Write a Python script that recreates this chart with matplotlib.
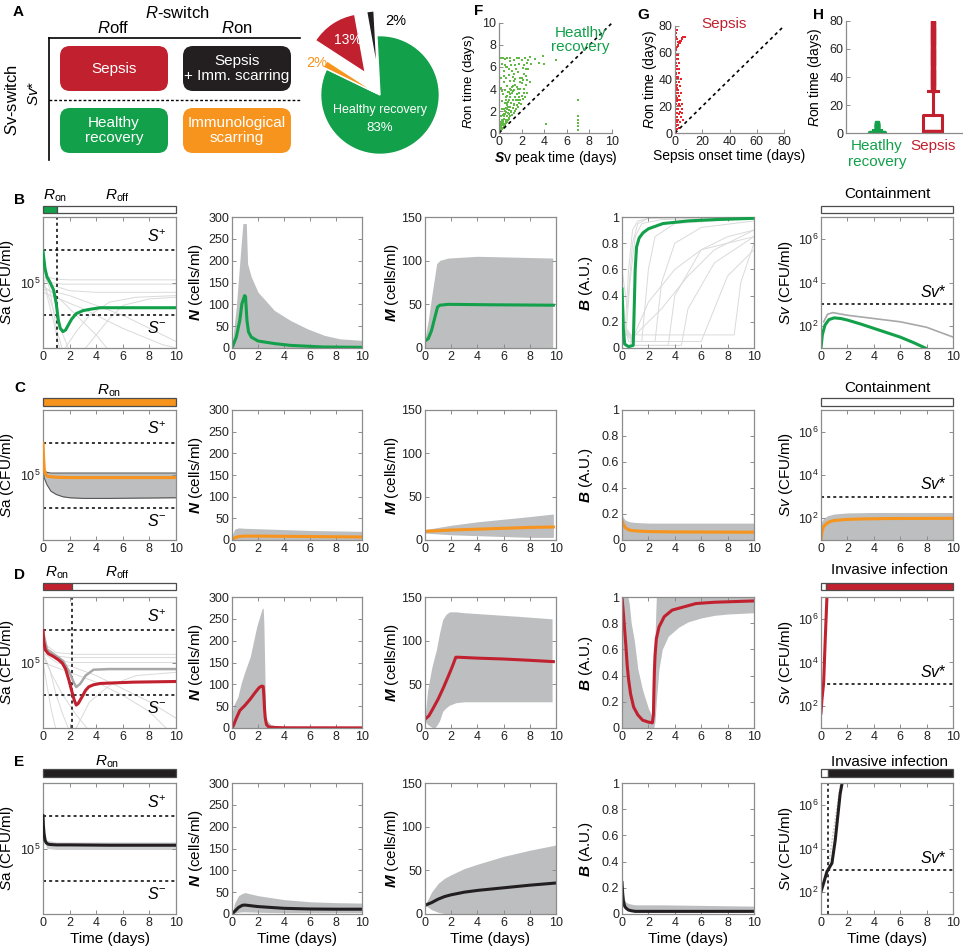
import numpy as np
import matplotlib
matplotlib.use('Agg')
import matplotlib.pyplot as plt
from matplotlib.patches import FancyBboxPatch
from matplotlib.ticker import NullLocator, NullFormatter

plt.rcParams['font.family'] = ['Liberation Sans', 'DejaVu Sans']
plt.rcParams['mathtext.fontset'] = 'custom'
plt.rcParams['mathtext.rm'] = 'Liberation Sans'
plt.rcParams['mathtext.it'] = 'Liberation Sans:italic'
plt.rcParams['mathtext.bf'] = 'Liberation Sans:bold'
if 'mathtext.bfit' in plt.rcParams:
    plt.rcParams['mathtext.bfit'] = 'Liberation Sans:bold:italic'
    BI = r'\mathbfit'
else:
    BI = r'\mathbf'

GREEN = '#12a04a'
RED = '#c1202f'
ORANGE = '#f7941d'
BLACK = '#231f20'
BAND = '#bcbec0'
THIN = '#dadada'
SPINE = '#8c8c8c'
FGREEN = '#62b946'
GRED = '#e8232b'

# ---------------- data ----------------
pie_labels = ['Healthy recovery', 'Sepsis + Imm. scarring', 'Sepsis', 'Immunological scarring']
pie_values = [83, 2, 13, 2]

# F scatter: Sv peak time vs Ron time (healthy recovery)
F_peak = [0.02,0.05,0.08,0.1,0.12,0.15,0.18,0.2,0.22,0.25,0.28,0.3,0.33,0.35,0.38,0.4,0.42,0.45,0.48,0.5,
          0.52,0.55,0.58,0.6,0.62,0.65,0.68,0.7,0.72,0.75,0.78,0.8,0.82,0.85,0.88,0.9,0.92,0.95,0.98,1.0,
          1.05,1.1,1.12,1.15,1.2,1.25,1.3,1.32,1.35,1.4,1.45,1.5,1.55,1.6,1.65,1.7,1.75,1.8,1.85,1.9,
          1.95,2.0,2.05,2.1,2.2,2.25,2.3,2.4,2.5,2.6,2.7,2.8,
          0.15,0.2,0.25,0.3,0.35,0.2,0.15,0.2,0.3,0.4,0.45,0.5,0.55,0.6,0.7,0.75,0.8,0.9,0.95,1.0,
          1.1,1.2,1.3,1.4,1.5,1.6,1.7,1.8,2.0,2.1,2.3,2.5,2.7,1.05,0.65,1.25,
          0.1,0.2,0.3,0.4,0.5,0.6,0.7,0.8,0.9,1.0,1.1,1.2,1.3,1.4,1.5,1.6,1.7,1.8,1.9,2.0,2.1,2.2,2.4,2.5,
          0.05,0.1,0.25,0.35,0.45,0.55,0.65,0.75,0.85,0.95,1.15,1.35,0.3,0.45,0.6,0.85,1.15,1.45,1.75,
          0.35,0.5,0.7,1.0,1.3,2.2,2.4,2.6,1.9,
          3.2,3.5,3.9,4.0,5.0,4.2,7.0,7.0,7.0,7.0,7.0,7.0]
F_ron = [0.05,0.1,0.2,0.15,0.3,0.25,0.45,0.3,0.6,0.4,0.75,0.5,0.9,0.45,1.1,0.6,1.3,0.7,1.5,0.8,
         1.7,0.75,1.2,0.9,1.9,1.1,2.2,1.0,1.5,2.5,1.2,1.8,2.8,1.3,2.1,3.0,1.4,2.4,3.3,1.5,
         2.0,2.7,3.6,1.6,2.3,3.0,1.8,3.9,2.6,2.0,3.3,2.2,4.2,2.5,3.0,2.4,3.6,2.7,4.6,3.0,
         2.6,3.4,5.0,3.1,4.0,5.4,3.3,4.4,3.6,5.8,4.6,6.3,
         1.0,1.5,2.2,2.9,3.5,4.1,5.0,6.8,6.3,5.6,4.6,3.9,6.7,5.0,4.3,6.0,3.7,5.3,6.8,4.7,
         6.2,5.1,6.6,4.9,5.8,6.8,5.5,6.3,6.6,5.9,6.8,6.4,6.9,3.9,3.3,4.3,
         0.4,0.9,1.2,1.7,2.0,2.3,2.7,2.4,1.7,3.5,1.9,3.8,2.5,4.4,3.0,3.5,4.0,3.3,4.0,4.5,4.8,3.6,5.2,4.8,
         0.3,0.7,1.0,1.6,2.2,2.7,3.0,3.4,3.7,4.0,4.2,4.7,3.8,5.2,6.0,5.8,5.6,6.2,6.8,
         6.8,6.2,6.8,6.5,5.4,6.2,5.8,6.6,5.0,
         6.7,6.4,7.0,6.3,6.6,0.8,3.0,1.5,1.2,0.6,0.3,0.9]

# G scatter: sepsis onset time vs Ron time
G_onset = [0.1,0.2,0.3,0.4,0.5,0.6,0.7,0.8,0.9,1.0,1.2,1.4,1.5,1.8,2.0,2.3,2.5,2.8,3.0,3.5,4.0,4.5,5.0,
           0.2,0.3,0.5,0.4,0.6,0.3,0.5,0.7,0.4,0.6,0.2,0.9,1.1,1.0,1.3,1.5,1.2,0.8,1.6,2.0,2.2,1.8,2.5,2.0,3.0,1.4,1.0,
           0.1,0.15,0.1,0.12,0.3,
           2.5,3.0,3.5,4.0,4.5,5.0,5.5,6.0,3.0,2.0,1.5,2.2,0.2,0.3,0.1,0.2,0.1,0.3,0.2,0.4,
           0.5,0.6,0.7,0.8,0.9,1.0,1.1,1.2,1.3,1.4,1.6,1.7,1.9,2.1,2.4,2.6,2.8,3.2,3.6,4.2,
           0.5,1.0,1.5,2.0,2.5,3.0,3.5,4.0,4.5,5.0,5.5,6.0,6.5,7.0,
           0.5,1.0,1.5,0.8]
G_ron = [0.5,2,4,1,6,3,8,2,10,5,12,3,8,15,6,18,10,4,14,20,8,12,18,
         14,20,25,30,35,40,45,50,55,58,60,28,22,38,32,42,48,52,26,30,25,36,40,48,28,58,62,
         10,25,35,50,65,
         55,45,35,25,30,22,15,10,52,58,70,68,45,52,58,30,20,15,8,18,
         38,42,22,32,44,15,55,40,18,24,34,50,20,42,32,22,48,38,16,40,
         62,63,64,65,66,67,67.5,68.5,69,70,71,71.5,72,72,
         72,75,77,70]

# H box plot summaries (Ron time, days)
H_green = dict(med=0.5, q1=0.2, q3=1.0, whislo=0.0, whishi=2.0,
               fliers=[2.5, 3.0, 3.5, 4.0, 4.5, 5.0, 5.5, 6.0, 6.5, 7.0])
H_red = dict(med=1.5, q1=1.0, q3=12.5, whislo=0.0, whishi=30.0,
             fliers=[31, 32.5, 34, 35.5, 37, 38.5, 40, 41.5, 43, 44.5, 46, 47.5, 49, 50.5, 52, 53.5, 55,
                     56.5, 58, 59.5, 61, 62.5, 64, 65.5, 67, 68.5, 70, 71.5, 73, 74.5, 76, 77.5, 79])

# Thresholds (log10)
S_plus, S_minus, Sv_star = 6.0, 4.0, 3.0

# ---- Row B (healthy recovery, green) ----
B_ron_end = 1.05
tB_sa = [0, 0.15, 0.3, 0.5, 0.8, 1.0, 1.15, 1.3, 1.5, 1.7, 1.9, 2.15, 2.5, 3.0, 3.5, 4.3, 6, 8, 10]
B_sa = [5.95, 5.43, 5.17, 5.03, 4.77, 4.35, 3.85, 3.6, 3.5, 3.55, 3.7, 3.88, 4.05, 4.14, 4.18, 4.23, 4.23, 4.23, 4.23]
B_sa_thin_t = [[0, 0.5, 1, 2, 4, 10], [0, 0.5, 1.5, 3, 10], [0, 0.8, 2, 4, 10], [0, 0.3, 0.8, 1.3],
               [0, 0.5, 1.0, 1.5, 2.0], [0, 1, 2, 3, 4, 5], [0, 2, 4, 6, 8, 10], [1.5, 2.5, 3.5, 5, 7, 10],
               [3, 4, 5, 6, 8, 10], [0, 0.5, 1, 1.5], [0, 3, 6, 9, 10]]
B_sa_thin = [[5.3, 5.15, 5.1, 5.08, 5.08, 5.08], [5.2, 5.0, 4.95, 4.95, 4.95], [5.1, 4.9, 4.75, 4.7, 4.7],
             [5.2, 4.6, 3.8, 2.9], [5.0, 4.5, 3.9, 3.4, 2.9], [4.9, 4.6, 4.2, 3.8, 3.4, 2.9],
             [4.8, 4.6, 4.3, 4.0, 3.6, 3.2], [2.9, 3.5, 4.0, 4.4, 4.55, 4.6], [2.9, 3.4, 3.9, 4.3, 4.5, 4.55],
             [5.5, 4.8, 3.6, 2.9], [4.7, 4.2, 3.6, 3.1, 3.0]]
tB_N = [0, 0.33, 0.6, 0.76, 0.97, 1.04, 1.15, 1.27, 1.48, 2, 3.3, 4.5, 7, 10]
B_N = [0, 25, 63, 101, 120, 118, 63, 37, 25, 16, 10, 6, 2.3, 1.5]
tB_Nb = [0, 0.33, 0.71, 0.84, 0.92, 1.1, 1.2, 1.48, 2.0, 3.26, 4.5, 5.8, 7.1, 8.3, 10]
B_N_hi = [5, 94, 239, 285, 285, 285, 193, 163, 128, 86, 63, 44, 29, 21, 17.5]
tB_M = [0, 0.25, 0.5, 0.76, 0.96, 1.14, 1.77, 5, 9.8]
B_M = [8, 10.7, 20, 35.5, 47, 49, 50, 49.5, 49]
tB_Mb = [0, 0.25, 0.5, 0.89, 1.14, 1.77, 4, 9.75]
B_M_hi = [10.7, 31.7, 58, 96.6, 100.4, 103, 105, 103]
tB_B = [0, 0.05, 0.1, 0.2, 0.5, 0.85, 0.95, 1.0, 1.1, 1.3, 1.6, 2, 3.1, 5, 7, 10]
B_B = [0.45, 0.3, 0.15, 0.03, 0.01, 0.02, 0.4, 0.6, 0.77, 0.84, 0.88, 0.91, 0.95, 0.97, 0.98, 0.99]
B_B_thin_t = [[0, 0.2, 0.5, 0.8, 1.2, 2, 10], [0, 0.3, 0.6, 1.0, 1.5, 3, 10], [0, 0.5, 1.5, 2, 2.5, 4, 10],
              [0, 1, 2.5, 3, 4, 6, 10], [0, 1, 2, 3.5, 4, 6, 8, 10], [0, 1, 3, 4.5, 5, 7, 10],
              [0, 1, 4, 6, 7, 8, 10], [0, 2, 5, 7, 8.5, 9, 10], [0, 0.4, 0.8, 1.2, 2, 4, 10],
              [1, 3, 5, 7, 10], [0.5, 2, 4, 6, 10]]
B_B_thin = [[0.45, 0.05, 0.6, 0.9, 0.97, 0.99, 1.0], [0.5, 0.1, 0.5, 0.85, 0.95, 0.98, 1.0],
            [0.3, 0.05, 0.05, 0.6, 0.85, 0.95, 0.99], [0.2, 0.05, 0.05, 0.5, 0.8, 0.92, 0.97],
            [0.2, 0.02, 0.02, 0.02, 0.4, 0.75, 0.85, 0.9], [0.15, 0.02, 0.02, 0.02, 0.3, 0.65, 0.85],
            [0.15, 0.05, 0.05, 0.05, 0.3, 0.55, 0.75], [0.1, 0.1, 0.1, 0.1, 0.1, 0.5, 0.8],
            [0.6, 0.3, 0.8, 0.95, 0.99, 1, 1], [0.1, 0.3, 0.55, 0.75, 0.9], [0.0, 0.35, 0.6, 0.75, 0.85]]
tB_sv = [0, 0.1, 0.3, 0.6, 1.0, 1.5, 2, 3, 4, 5, 6, 7, 7.9]
B_sv = [1.0, 1.6, 2.05, 2.3, 2.38, 2.35, 2.28, 2.1, 1.9, 1.7, 1.5, 1.25, 1.0]
tB_sv_gray = [0.2, 0.5, 0.9, 2, 4, 6, 8, 10]
B_sv_gray = [2.2, 2.55, 2.62, 2.5, 2.35, 2.2, 1.95, 1.5]

# ---- Row C (immunological scarring, orange) ----
tC_sa = [0, 0.05, 0.1, 0.2, 0.3, 0.5, 1, 2, 4, 10]
C_sa = [5.97, 5.5, 5.15, 5.02, 4.97, 4.95, 4.93, 4.92, 4.92, 4.92]
tC_sab = [0, 0.1, 0.3, 0.6, 1, 1.5, 2, 3, 5, 10]
C_sa_hi = [5.3, 5.12, 5.08, 5.06, 5.06, 5.06, 5.06, 5.06, 5.06, 5.06]
C_sa_lo = [5.2, 4.9, 4.7, 4.5, 4.4, 4.33, 4.3, 4.28, 4.28, 4.3]
tC_N = [0, 0.2, 0.5, 1, 2, 4, 6, 8, 10]
C_N = [0, 5, 8, 9, 9, 8.5, 8, 7.5, 7]
C_N_hi = [10, 25, 28, 27, 26, 24, 22, 21, 20]
tC_M = [0, 2, 4, 6, 8, 9.8]
C_M = [10, 11.5, 12.5, 13.5, 14.5, 15]
C_M_hi = [12, 17, 21, 24, 27, 30]
C_M_lo = [8, 6, 5, 4, 3, 3]
tC_B = [0, 0.1, 0.3, 0.6, 1, 2, 4, 10]
C_B = [0.15, 0.12, 0.09, 0.075, 0.07, 0.065, 0.062, 0.06]
C_B_hi = [0.2, 0.17, 0.15, 0.14, 0.135, 0.13, 0.13, 0.13]
tC_sv = [0, 0.05, 0.18, 0.4, 0.68, 1.0, 1.95, 3, 5, 10]
C_sv = [1.0, 1.3, 1.61, 1.75, 1.85, 1.9, 1.95, 1.97, 1.99, 2.0]
tC_svb = [0, 0.2, 0.5, 1, 2, 4, 10]
C_sv_hi = [1.8, 2.0, 2.12, 2.2, 2.25, 2.27, 2.27]

# ---- Row D (sepsis, red) ----
D_ron_end = 2.2
tD_sa = [0, 0.05, 0.18, 0.4, 0.8, 1.2, 1.45, 1.7, 1.95, 2.2, 2.35, 2.5, 2.65, 2.95, 3.2, 3.45, 3.8, 4.3, 5.5, 6.8, 10]
D_sa = [5.97, 5.65, 5.38, 5.27, 5.18, 5.07, 4.98, 4.8, 4.46, 4.07, 3.85, 3.7, 3.75, 3.96, 4.15, 4.26, 4.32, 4.36, 4.38, 4.4, 4.42]
tD_sa_gray = [0, 0.3, 1, 1.5, 2, 2.3, 2.5, 2.8, 3.2, 3.8, 5, 10]
D_sa_gray = [5.95, 5.4, 5.2, 5.05, 4.7, 4.4, 4.25, 4.35, 4.6, 4.78, 4.8, 4.8]
D_sa_thin_t = [[0, 1, 2, 4, 10], [0, 1, 2, 3, 10], [0, 1, 2, 4, 6, 8, 10], [0, 0.5, 1, 1.5, 2],
               [0, 0.7, 1.5, 2.5, 3.5], [0, 2, 4, 6, 8, 9.5], [0, 0.3, 0.6, 1], [2.5, 3.5, 5, 7, 10],
               [0, 1, 2.5, 4, 6, 10]]
D_sa_thin = [[5.5, 5.2, 5.15, 5.15, 5.15], [5.4, 5.1, 5.0, 5.0, 5.0], [5.3, 5.0, 4.9, 4.6, 4.2, 3.8, 3.3],
             [5.3, 4.8, 4.0, 3.4, 2.9], [5.2, 4.6, 4.0, 3.4, 2.9], [5.0, 4.7, 4.4, 4.0, 3.5, 2.9],
             [5.0, 4.3, 3.6, 2.9], [3.0, 3.8, 4.3, 4.6, 4.7], [5.6, 5.3, 5.25, 5.25, 5.25, 5.25]]
tD_N = [0, 0.1, 0.3, 0.6, 1.0, 1.4, 1.8, 2.1, 2.3, 2.4, 2.45, 2.5, 2.55, 2.65, 2.8, 3, 4, 10]
D_N = [0, 5, 20, 40, 52, 66, 82, 93, 96, 95, 75, 45, 25, 8, 3, 1.5, 0.5, 0.3]
tD_Nb = [0, 0.1, 0.3, 0.45, 0.7, 1.0, 1.4, 1.9, 2.1, 2.3, 2.4, 2.45, 2.6, 3, 3.5, 4, 10]
D_N_hi = [30, 50, 62, 71, 102, 130, 163, 232, 252, 272, 275, 240, 20, 8, 4, 2, 1]
tD_M = [0, 0.3, 0.6, 1.0, 1.4, 1.8, 2.1, 2.35, 2.6, 4, 6, 8, 9.8]
D_M = [10, 14, 22, 33, 46, 60, 71, 81, 81, 80, 79, 77.5, 76]
tD_Mb = [0, 0.2, 0.5, 0.7, 0.86, 1.1, 1.35, 1.6, 1.86, 2.37, 3, 5, 7, 9.7]
D_M_hi = [12, 43, 68, 80, 89, 108, 124, 130, 133, 133, 132, 130, 128, 125]
D_M_lo = [8, 4, 1, 0, 2, 8, 19, 23, 26, 29, 30, 30, 30, 30]
tD_B = [0, 0.1, 0.2, 0.3, 0.4, 0.5, 0.65, 0.88, 1.2, 1.56, 2.0, 2.3, 2.38, 2.42, 2.45, 2.5, 2.6, 2.8, 3.2, 3.8, 5.6, 7, 10]
D_B = [1.0, 0.88, 0.75, 0.62, 0.47, 0.37, 0.26, 0.16, 0.1, 0.06, 0.045, 0.04, 0.1, 0.3, 0.42, 0.55, 0.68, 0.77, 0.85,
       0.9, 0.95, 0.96, 0.97]
tD_Bb = [0, 0.45, 0.55, 0.7, 0.93, 1.2, 1.56, 2.0, 2.3, 2.4, 2.5, 2.6, 2.8, 3.05, 3.5, 4.3, 5, 6, 7, 8, 10]
D_B_hi = [1, 1, 0.95, 0.8, 0.67, 0.45, 0.29, 0.15, 0.086, 0.08, 0.7, 1, 1, 1, 1, 1, 1, 1, 1, 1, 1]
D_B_lo = [0, 0, 0, 0, 0, 0, 0, 0, 0, 0, 0.05, 0.2, 0.45, 0.6, 0.7, 0.77, 0.81, 0.84, 0.86, 0.87, 0.88]
tD_sv = [0, 0.07, 0.2, 0.32, 0.45]
D_sv = [1.69, 2.29, 3.07, 5.05, 7.0]
D_inv_start = 0.4

# ---- Row E (sepsis + immunological scarring, black) ----
tE_sa = [0, 0.03, 0.08, 0.15, 0.25, 0.4, 0.6, 1, 2, 5, 10]
E_sa = [6.0, 5.7, 5.45, 5.25, 5.17, 5.13, 5.12, 5.11, 5.11, 5.1, 5.1]
tE_sab = [0, 0.1, 0.3, 1, 10]
E_sa_hi = [6.0, 5.5, 5.25, 5.2, 5.2]
E_sa_lo = [5.9, 5.2, 5.0, 4.97, 4.97]
tE_N = [0, 0.2, 0.5, 0.8, 1, 2, 4, 6, 8, 10]
E_N = [0, 6, 15, 20, 20.5, 17, 13, 11.5, 11, 11]
E_N_hi = [0, 25, 42, 47, 49, 42, 33, 28, 26, 25]
E_N_lo = [0, 2, 4, 5, 5, 4, 3, 3, 3, 3]
tE_M = [0, 0.5, 1, 1.5, 2, 3, 4, 6, 8, 10]
E_M = [10, 13, 17, 20, 22, 25, 27, 30, 33, 35.5]
E_M_hi = [10, 25, 35, 41, 45, 52, 57, 66, 73, 79]
E_M_lo = [10, 5, 2, 0.5, 0, 0, 0, 0, 0, 0]
tE_B = [0, 0.05, 0.1, 0.2, 0.3, 0.5, 0.7, 1, 3, 10]
E_B = [0.24, 0.16, 0.1, 0.06, 0.045, 0.03, 0.025, 0.02, 0.02, 0.02]
E_B_hi = [0.25, 0.2, 0.15, 0.11, 0.09, 0.08, 0.075, 0.07, 0.07, 0.06]
tE_sv = [0, 0.2, 0.45, 0.83, 1.08, 1.45, 1.6]
E_sv = [2.02, 2.42, 2.94, 3.33, 4.39, 6.5, 7.0]
tE_sv_gray = [0.3, 0.55, 0.8, 1.0, 1.3, 1.5]
E_sv_gray = [2.6, 3.1, 4.2, 5.0, 6.2, 7.0]
E_inv_start = 0.55

# ---------------- figure ----------------
W, H = 963, 952
fig = plt.figure(figsize=(W / 100, H / 100), dpi=100)


def box(l, t, r, b):
    return fig.add_axes([l / W, 1 - b / H, (r - l) / W, (b - t) / H])


def ftext(x, y, s, **kw):
    fig.text(x / W, 1 - y / H, s, **kw)


def style(ax, allsides=True):
    for s in ax.spines.values():
        s.set_color(SPINE)
        s.set_linewidth(0.9)
    ax.tick_params(which='both', direction='in', length=3, width=0.7, color=SPINE,
                   top=allsides, right=allsides, labelsize=9, pad=2, labelcolor='#222222')


COLS = [(43, 176), (232, 362), (425, 556), (622, 754), (821, 953)]
ROWS = [(217, 348), (410, 540), (597, 728), (783, 914)]
BARS = [(206, 213), (398, 406), (583, 590), (769, 777)]
YLAB_X = [-0.2, -0.205, -0.185, -0.205, -0.2]


def tax(ci, ri):
    l, r = COLS[ci]
    t, b = ROWS[ri]
    ax = box(l, t, r, b)
    ax.set_xlim(0, 10)
    ax.set_xticks([0, 2, 4, 6, 8, 10])
    style(ax)
    if ri == 3:
        ax.set_xlabel('Time (days)', fontsize=11, labelpad=2)
    return ax


def P(v):
    return np.power(10.0, np.asarray(v, dtype=float))


def sa_axes(ri):
    ax = tax(0, ri)
    ax.set_yscale('log')
    ax.set_ylim(1e3, 1e7)
    ax.set_yticks([1e5])
    ax.yaxis.set_minor_locator(NullLocator())
    ax.yaxis.set_minor_formatter(NullFormatter())
    ax.axhline(10 ** S_plus, color='k', lw=1.1, ls=(0, (2, 2)))
    ax.axhline(10 ** S_minus, color='k', lw=1.1, ls=(0, (2, 2)))
    ax.text(0.93, 0.79, r'$\mathit{S}^{+}$', transform=ax.transAxes, ha='right', va='bottom', fontsize=11.5)
    ax.text(0.93, 0.21, r'$\mathit{S}^{-}$', transform=ax.transAxes, ha='right', va='top', fontsize=11.5)
    ax.set_ylabel(r'$\mathit{S}$a (CFU/ml)', fontsize=11)
    ax.yaxis.set_label_coords(YLAB_X[0], 0.5)
    return ax


def n_axes(ri):
    ax = tax(1, ri)
    ax.set_ylim(0, 300)
    ax.set_yticks([0, 50, 100, 150, 200, 250, 300])
    ax.set_ylabel(r'$' + BI + r'{N}$ (cells/ml)', fontsize=11)
    ax.yaxis.set_label_coords(YLAB_X[1], 0.5)
    return ax


def m_axes(ri):
    ax = tax(2, ri)
    ax.set_ylim(0, 150)
    ax.set_yticks([0, 50, 100, 150])
    ax.set_ylabel(r'$' + BI + r'{M}$ (cells/ml)', fontsize=11)
    ax.yaxis.set_label_coords(YLAB_X[2], 0.5)
    return ax


def b_axes(ri):
    ax = tax(3, ri)
    ax.set_ylim(0, 1)
    ax.set_yticks([0, 0.2, 0.4, 0.6, 0.8, 1.0])
    ax.set_yticklabels(['0', '0.2', '0.4', '0.6', '0.8', '1'])
    ax.set_ylabel(r'$' + BI + r'{B}$ (A.U.)', fontsize=11)
    ax.yaxis.set_label_coords(YLAB_X[3], 0.5)
    return ax


def sv_axes(ri):
    ax = tax(4, ri)
    ax.set_yscale('log')
    ax.set_ylim(1e1, 1e7)
    ax.set_yticks([1e2, 1e4, 1e6])
    ax.yaxis.set_minor_locator(NullLocator())
    ax.yaxis.set_minor_formatter(NullFormatter())
    ax.axhline(10 ** Sv_star, color='k', lw=1.1, ls=(0, (2, 2)))
    ax.text(0.95, 0.37, r'$\mathit{Sv}$*', transform=ax.transAxes, ha='right', va='bottom', fontsize=11.5)
    ax.set_ylabel(r'$\mathit{Sv}$ (CFU/ml)', fontsize=11)
    ax.yaxis.set_label_coords(YLAB_X[4], 0.5)
    return ax


def bar(ci, ri, segs):
    l, r = COLS[ci]
    t, b = BARS[ri]
    ax = box(l, t, r, b)
    for s0, s1, c in segs:
        ax.barh(0, s1 - s0, left=s0, height=1, color=c, edgecolor='#4d4d4d', linewidth=0.9, clip_on=False)
    ax.set_xlim(0, 10)
    ax.set_ylim(-0.5, 0.5)
    ax.axis('off')
    return ax


def thin(ax, ts, ys, log=False):
    for t, y in zip(ts, ys):
        ax.plot(t, P(y) if log else y, color=THIN, lw=0.7, zorder=1)


RON = r'$\mathit{R}_{\mathrm{on}}$'
ROFF = r'$\mathit{R}_{\mathrm{off}}$'

# ---------------- Panel A ----------------
axA = box(0, 0, 305, 170)
axA.set_xlim(0, 305)
axA.set_ylim(170, 0)
axA.axis('off')
axA.plot([49, 300], [38, 38], color='k', lw=1.2)
axA.plot([49, 49], [38, 160], color='k', lw=1.2)
axA.plot([49, 300], [100, 100], color='k', lw=1.0, ls=(0, (2, 1.5)))
for (x0, y0, c, txt) in [(60, 46, RED, 'Sepsis'), (183, 46, BLACK, 'Sepsis\n+ Imm. scarring'),
                         (60, 108, GREEN, 'Healthy\nrecovery'), (183, 108, ORANGE, 'Immunological\nscarring')]:
    axA.add_patch(FancyBboxPatch((x0, y0), 108, 45, boxstyle='round,pad=0,rounding_size=10',
                                 fc=c, ec='none'))
    axA.text(x0 + 54, y0 + 22.5, txt, color='white', ha='center', va='center', fontsize=11,
             linespacing=1.05)
axA.text(177, 13, r'$\mathit{R}$-switch', ha='center', va='center', fontsize=12)
axA.text(113, 28, r'$\mathit{R}$off', ha='center', va='center', fontsize=12)
axA.text(237, 28, r'$\mathit{R}$on', ha='center', va='center', fontsize=12)
axA.text(12, 100, r'$\mathit{S}$v-switch', ha='center', va='center', fontsize=12, rotation=90)
axA.text(34, 93, r'$\mathit{Sv}$*', ha='center', va='center', fontsize=11, rotation=90)
ftext(13, 12, 'A', fontsize=11, fontweight='bold', ha='left', va='center')

# Pie
axP = box(285, 0, 475, 190)
axP.pie(pie_values, colors=[GREEN, BLACK, RED, ORANGE], startangle=154.2, counterclock=True,
        explode=[0, 0.42, 0.45, 0.06], wedgeprops=dict(edgecolor='white', linewidth=1))
axP.set_xlim(-1.6, 1.6)
axP.set_ylim(-1.6, 1.6)
axP.set_aspect('equal')
axP.axis('off')
axP.text(-0.54, 0.93, '13%', color='white', ha='center', va='center', fontsize=10)
axP.text(0.08, 1.25, '2%', color='k', ha='left', va='center', fontsize=10.5)
axP.text(-1.06, 0.54, '2%', color=ORANGE, ha='center', va='center', fontsize=10.5)
axP.text(0.0, -0.25, 'Healthy recovery', color='white', ha='center', va='center', fontsize=9)
axP.text(0.0, -0.55, '83%', color='white', ha='center', va='center', fontsize=9.5)

# ---------------- Panel F ----------------
axF = box(499, 23, 612, 133)
style(axF, allsides=False)
axF.spines['top'].set_visible(False)
axF.spines['right'].set_visible(False)
axF.scatter(F_peak, F_ron, s=3, marker='s', color=FGREEN, linewidths=0)
axF.plot([0, 10], [0, 10], color='k', lw=1.2, ls=(0, (2, 2)))
axF.set_xlim(0, 10)
axF.set_ylim(0, 10)
axF.set_xticks([0, 2, 4, 6, 8, 10])
axF.set_yticks([0, 2, 4, 6, 8, 10])
axF.set_xlabel(r'$' + BI + r'{S}$v peak time (days)', fontsize=10, labelpad=1)
axF.set_ylabel(r'$\mathit{R}$on time (days)', fontsize=9.5)
axF.yaxis.set_label_coords(-0.195, 0.47)
axF.text(0.72, 0.97, 'Heatlhy\nrecovery', color=GREEN, transform=axF.transAxes, ha='center', va='top',
         fontsize=11, linespacing=1.0)
ftext(474, 11, 'F', fontsize=11, fontweight='bold', ha='left', va='center')

# ---------------- Panel G ----------------
axG = box(675, 26, 784, 133)
style(axG, allsides=False)
axG.spines['top'].set_visible(False)
axG.spines['right'].set_visible(False)
axG.scatter(G_onset, G_ron, s=3, marker='s', color=GRED, linewidths=0)
axG.plot([0, 80], [0, 80], color='k', lw=1.2, ls=(0, (2, 2)))
axG.set_xlim(0, 80)
axG.set_ylim(0, 80)
axG.set_xticks([0, 20, 40, 60, 80])
axG.set_yticks([0, 20, 40, 60, 80])
axG.set_xlabel('Sepsis onset time (days)', fontsize=10, labelpad=1)
axG.set_ylabel(r'$\mathit{R}$on time (days)', fontsize=10)
axG.yaxis.set_label_coords(-0.15, 0.5)
axG.text(0.45, 1.08, 'Sepsis', color=RED, transform=axG.transAxes, ha='center', va='top', fontsize=11)
ftext(637, 15, 'G', fontsize=11, fontweight='bold', ha='left', va='center')

# ---------------- Panel H ----------------
axH = box(846, 21, 962, 133)
style(axH, allsides=False)
axH.spines['top'].set_visible(False)
axH.spines['right'].set_visible(False)
for pos, st, c, w in [(1, H_green, GREEN, 0.3), (2, H_red, RED, 0.34)]:
    axH.bxp([st], positions=[pos], widths=w, showfliers=True, manage_ticks=False,
            boxprops=dict(color=c, lw=2.2), medianprops=dict(color=c, lw=2.5),
            whiskerprops=dict(color=c, lw=2.2), capprops=dict(color=c, lw=2.2),
            flierprops=dict(marker='s', markersize=3.5, markerfacecolor=c, markeredgecolor=c))
axH.set_xlim(0.446, 2.52)
axH.set_ylim(0, 80)
axH.set_yticks([0, 20, 40, 60, 80])
axH.set_xticks([1, 2])
axH.set_xticklabels(['Heatlhy\nrecovery', 'Sepsis'], fontsize=11)
axH.get_xticklabels()[0].set_color(GREEN)
axH.get_xticklabels()[1].set_color(RED)
axH.tick_params(axis='x', length=0, pad=4)
axH.set_ylabel(r'$\mathit{R}$on time (days)', fontsize=10)
axH.yaxis.set_label_coords(-0.19, 0.5)
ftext(813, 15, 'H', fontsize=11, fontweight='bold', ha='left', va='center')

# ---------------- Row B ----------------
ftext(14, 200, 'B', fontsize=11, fontweight='bold', ha='left', va='center')
bar(0, 0, [(0, B_ron_end, GREEN), (B_ron_end, 10, 'white')])
ftext(55, 196, RON, fontsize=11, ha='center', va='center')
ftext(117, 196, ROFF, fontsize=11, ha='center', va='center')
ax = sa_axes(0)
thin(ax, B_sa_thin_t, B_sa_thin, log=True)
ax.axvline(B_ron_end, color='k', lw=1.1, ls=(0, (2, 2)))
ax.plot(tB_sa, P(B_sa), color=GREEN, lw=2.2, zorder=3)
ax = n_axes(0)
ax.fill_between(tB_Nb, 0, B_N_hi, color=BAND, lw=0)
ax.plot(tB_N, B_N, color=GREEN, lw=2.2)
ax = m_axes(0)
ax.fill_between(tB_Mb, 0, B_M_hi, color=BAND, lw=0)
ax.plot(tB_M, B_M, color=GREEN, lw=2.2)
ax = b_axes(0)
thin(ax, B_B_thin_t, B_B_thin)
ax.plot(tB_B, B_B, color=GREEN, lw=2.2, zorder=3)
ax = sv_axes(0)
ax.plot(tB_sv_gray, P(B_sv_gray), color='#a8a8a8', lw=1.2)
ax.plot(tB_sv, P(B_sv), color=GREEN, lw=2.2)
bar(4, 0, [(0, 10, 'white')])
ftext(887, 194, 'Containment', fontsize=11, ha='center', va='center')

# ---------------- Row C ----------------
ftext(14, 388, 'C', fontsize=11, fontweight='bold', ha='left', va='center')
bar(0, 1, [(0, 10, ORANGE)])
ftext(109, 391, RON, fontsize=11, ha='center', va='center')
ax = sa_axes(1)
ax.fill_between(tC_sab, P(C_sa_lo), P(C_sa_hi), color=BAND, lw=0)
ax.plot(tC_sab, P(C_sa_hi), color='#555555', lw=0.8)
ax.plot(tC_sab, P(C_sa_lo), color='#555555', lw=0.8)
ax.plot(tC_sa, P(C_sa), color=ORANGE, lw=2.2, zorder=3)
ax = n_axes(1)
ax.fill_between(tC_N, 0, C_N_hi, color=BAND, lw=0)
ax.plot(tC_N, C_N, color=ORANGE, lw=2.2)
ax = m_axes(1)
ax.fill_between(tC_M, C_M_lo, C_M_hi, color=BAND, lw=0)
ax.plot(tC_M, C_M, color=ORANGE, lw=2.2)
ax = b_axes(1)
ax.fill_between(tC_B, 0, C_B_hi, color=BAND, lw=0)
ax.plot(tC_B, C_B, color=ORANGE, lw=2.2)
ax = sv_axes(1)
ax.fill_between(tC_svb, 10, P(C_sv_hi), color=BAND, lw=0)
ax.plot(tC_sv, P(C_sv), color=ORANGE, lw=2.2)
bar(4, 1, [(0, 10, 'white')])
ftext(887, 388, 'Containment', fontsize=11, ha='center', va='center')

# ---------------- Row D ----------------
ftext(14, 575, 'D', fontsize=11, fontweight='bold', ha='left', va='center')
bar(0, 2, [(0, D_ron_end, RED), (D_ron_end, 10, 'white')])
ftext(57, 573, RON, fontsize=11, ha='center', va='center')
ftext(117, 573, ROFF, fontsize=11, ha='center', va='center')
ax = sa_axes(2)
thin(ax, D_sa_thin_t, D_sa_thin, log=True)
ax.axvline(D_ron_end, color='k', lw=1.1, ls=(0, (2, 2)))
ax.plot(tD_sa_gray, P(D_sa_gray), color='#a8a8a8', lw=1.8, zorder=2)
ax.plot(tD_sa, P(D_sa), color=RED, lw=2.2, zorder=3)
ax = n_axes(2)
ax.fill_between(tD_Nb, 0, D_N_hi, color=BAND, lw=0)
ax.plot(tD_N, D_N, color=RED, lw=2.2)
ax = m_axes(2)
ax.fill_between(tD_Mb, D_M_lo, D_M_hi, color=BAND, lw=0)
ax.plot(tD_M, D_M, color=RED, lw=2.2)
ax = b_axes(2)
ax.fill_between(tD_Bb, D_B_lo, D_B_hi, color=BAND, lw=0)
ax.plot(tD_B, D_B, color=RED, lw=2.2)
ax = sv_axes(2)
ax.plot(tD_sv, P(D_sv), color=RED, lw=2.2)
bar(4, 2, [(0, D_inv_start, 'white'), (D_inv_start, 10, RED)])
ftext(889, 570, 'Invasive infection', fontsize=11, ha='center', va='center')

# ---------------- Row E ----------------
ftext(14, 762, 'E', fontsize=11, fontweight='bold', ha='left', va='center')
bar(0, 3, [(0, 10, BLACK)])
ftext(107, 762, RON, fontsize=11, ha='center', va='center')
ax = sa_axes(3)
ax.fill_between(tE_sab, P(E_sa_lo), P(E_sa_hi), color='#cfd0d2', lw=0)
ax.plot(tE_sa, P(E_sa), color=BLACK, lw=2.2, zorder=3)
ax = n_axes(3)
ax.fill_between(tE_N, E_N_lo, E_N_hi, color=BAND, lw=0)
ax.plot(tE_N, E_N, color=BLACK, lw=2.2)
ax = m_axes(3)
ax.fill_between(tE_M, E_M_lo, E_M_hi, color=BAND, lw=0)
ax.plot(tE_M, E_M, color=BLACK, lw=2.2)
ax = b_axes(3)
ax.fill_between(tE_B, E_B, E_B_hi, color=BAND, lw=0)
ax.plot(tE_B, E_B, color=BLACK, lw=2.2)
ax = sv_axes(3)
ax.plot(tE_sv_gray, P(E_sv_gray), color='#c8c8c8', lw=1.2, ls=(0, (1, 1)))
ax.axvline(E_inv_start, color='k', lw=1.1, ls=(0, (2, 2)))
ax.plot(tE_sv, P(E_sv), color=BLACK, lw=2.2)
bar(4, 3, [(0, E_inv_start, 'white'), (E_inv_start, 10, BLACK)])
ftext(889, 762, 'Invasive infection', fontsize=11, ha='center', va='center')

fig.savefig('out.png', dpi=100)
